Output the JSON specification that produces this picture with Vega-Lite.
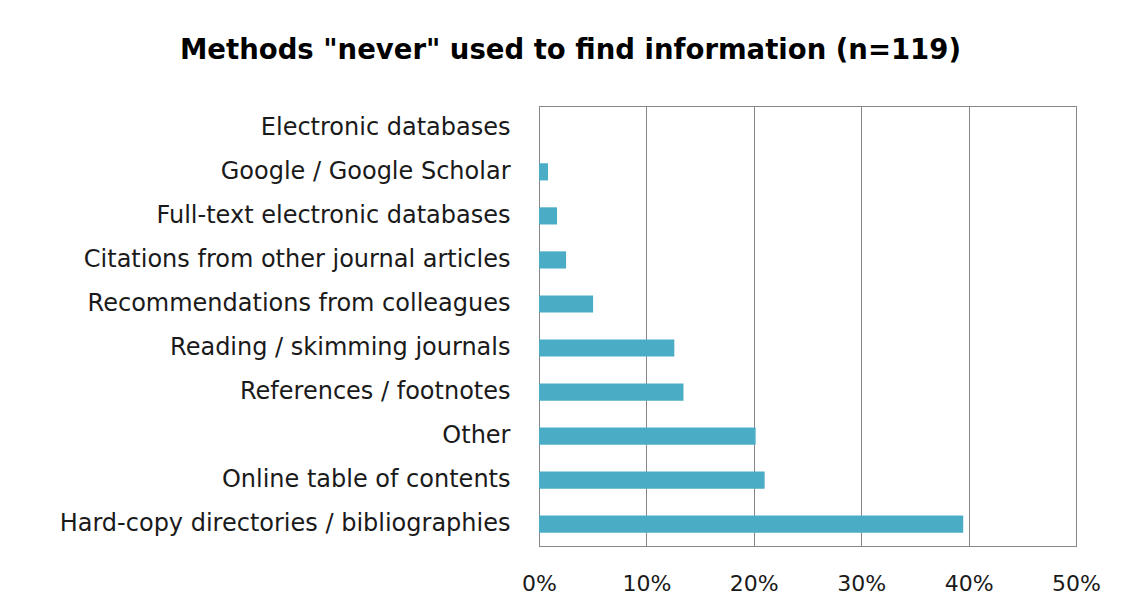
{
  "$schema": "https://vega.github.io/schema/vega-lite/v6.json",
  "width": 537,
  "height": 440,
  "autosize": {"type": "none"},
  "padding": {"left": 539, "top": 106, "right": 49, "bottom": 64},
  "background": "white",
  "title": {
    "text": "Methods \"never\" used to find information (n=119)",
    "anchor": "start",
    "frame": "group",
    "dx": -359,
    "offset": 42,
    "fontSize": 27.5,
    "font": "DejaVu Sans",
    "fontWeight": "bold",
    "color": "#000000"
  },
  "data": {
    "values": [
      {"method": "Electronic databases", "pct": 0.0},
      {"method": "Google / Google Scholar", "pct": 0.0084},
      {"method": "Full-text electronic databases", "pct": 0.0168},
      {"method": "Citations from other journal articles", "pct": 0.0252},
      {"method": "Recommendations from colleagues", "pct": 0.0504},
      {"method": "Reading / skimming journals", "pct": 0.126},
      {"method": "References / footnotes", "pct": 0.1345},
      {"method": "Other ", "pct": 0.2017},
      {"method": "Online table of contents", "pct": 0.2101},
      {"method": "Hard-copy directories / bibliographies", "pct": 0.395}
    ]
  },
  "mark": {"type": "bar", "color": "#4BACC6"},
  "encoding": {
    "y": {
      "field": "method",
      "type": "nominal",
      "sort": null,
      "scale": {"paddingInner": 0.61, "paddingOuter": 0.3},
      "axis": {
        "title": null,
        "ticks": false,
        "labelPadding": 29,
        "labelFontSize": 24,
        "labelFont": "DejaVu Sans",
        "labelColor": "#1a1a1a",
        "labelLimit": 600,
        "domainColor": "#868686",
        "domainWidth": 1
      }
    },
    "x": {
      "field": "pct",
      "type": "quantitative",
      "scale": {"domain": [0, 0.5], "nice": false},
      "axis": {
        "title": null,
        "format": ".0%",
        "values": [0, 0.1, 0.2, 0.3, 0.4, 0.5],
        "ticks": false,
        "labelPadding": 27,
        "labelFontSize": 22,
        "labelFont": "DejaVu Sans",
        "labelColor": "#1a1a1a",
        "grid": true,
        "gridColor": "#868686",
        "gridWidth": 1,
        "domainColor": "#868686",
        "labelFlush": false
      }
    }
  },
  "config": {
    "view": {"stroke": "#868686", "strokeWidth": 1}
  }
}
